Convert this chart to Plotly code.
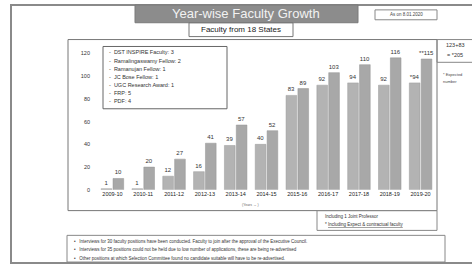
import plotly.graph_objects as go

years = ["2009-10", "2010-11", "2011-12", "2012-13", "2013-14", "2014-15",
         "2015-16", "2016-17", "2017-18", "2018-19", "2019-20"]
start_vals = [1, 1, 12, 16, 39, 40, 83, 92, 94, 92, 94]
end_vals = [10, 20, 27, 41, 57, 52, 89, 103, 110, 116, 115]
start_labels = ["1", "1", "12", "16", "39", "40", "83", "92", "94", "92", "*94"]
end_labels = ["10", "20", "27", "41", "57", "52", "89", "103", "110", "116", "**115"]
y_ticks = [0, 20, 40, 60, 80, 100, 120]

legend_items = ["DST INSPIRE Faculty: 3", "Ramalingaswamy Fellow: 2", "Ramanujan Fellow: 1",
                "JC Bose Fellow: 1", "UGC Research Award: 1", "FRP: 5", "PDF: 4"]
notes = [
    "Interviews for 30 faculty positions have been conducted. Faculty to join after the approval of the Executive Council.",
    "Interviews for 35 positions could not be held due to low number of applications, these are being re-advertised",
    "Other positions at which Selection Committee found no candidate suitable will have to be re-advertised.",
]

W, H = 472, 269
def px(x): return x / W
def py(y): return 1 - y / H

fig = go.Figure()
fig.add_trace(go.Bar(x=years, y=start_vals, text=start_labels, textposition="outside",
                     marker=dict(color="#b3b3b3", line=dict(color="#9a9a9a", width=0.5)),
                     textfont=dict(size=6, color="#333"), cliponaxis=False, constraintext="none"))
fig.add_trace(go.Bar(x=years, y=end_vals, text=end_labels, textposition="outside",
                     marker=dict(color="#a8a8a8", line=dict(color="#949494", width=0.5)),
                     textfont=dict(size=6, color="#333"), cliponaxis=False, constraintext="none"))

shapes = [
    dict(type="rect", xref="paper", yref="paper", x0=px(11), x1=px(480), y0=py(266), y1=py(5),
         line=dict(color="#8a8a8a", width=2), layer="below"),
    dict(type="rect", xref="paper", yref="paper", x0=px(135), x1=px(358), y0=py(23), y1=py(5),
         fillcolor="#8c8c8c", line=dict(color="#7a7a7a", width=1)),
    dict(type="rect", xref="paper", yref="paper", x0=px(375), x1=px(437), y0=py(20), y1=py(10),
         line=dict(color="#888", width=1)),
    dict(type="rect", xref="paper", yref="paper", x0=px(189), x1=px(293), y0=py(37), y1=py(23),
         line=dict(color="#777", width=1)),
    dict(type="rect", xref="paper", yref="paper", x0=px(68), x1=px(437), y0=py(213), y1=py(40),
         line=dict(color="#777", width=1)),
    dict(type="rect", xref="paper", yref="paper", x0=px(103), x1=px(227), y0=py(110), y1=py(47),
         line=dict(color="#666", width=1), fillcolor="white"),
    dict(type="rect", xref="paper", yref="paper", x0=px(437), x1=px(474), y0=py(63), y1=py(40),
         line=dict(color="#888", width=1)),
    dict(type="rect", xref="paper", yref="paper", x0=px(317), x1=px(437), y0=py(233), y1=py(213),
         line=dict(color="#888", width=1)),
    dict(type="rect", xref="paper", yref="paper", x0=px(67), x1=px(445), y0=py(265), y1=py(238),
         line=dict(color="#888", width=1)),
]

ann = []
def text(x, y, s, size=6, color="#333", xanchor="left", **kw):
    ann.append(dict(xref="paper", yref="paper", x=px(x), y=py(y), text=s, showarrow=False,
                    xanchor=xanchor, yanchor="middle", font=dict(size=size, color=color), **kw))

text(246, 14, "Year-wise Faculty Growth", size=13, color="#f2f2f2", xanchor="center")
text(406, 15, "As on 8.01.2020", size=4.5, color="#444", xanchor="center")
text(241, 30, "Faculty from 18 States", size=8, color="#222", xanchor="center")
for i, item in enumerate(legend_items):
    text(107, 53 + i * 8.2, "-  " + item, size=5.5, color="#333")
text(455, 46, "123+83", size=5.5, color="#333", xanchor="center")
text(455, 56, "= *205", size=5.5, color="#333", xanchor="center")
text(441, 75, "* Expected", size=4, color="#444")
text(441, 82, "number", size=4, color="#444")
text(250, 207, "(Years \u2192 )", size=3.5, color="#666", xanchor="center")
text(323, 219, "Including 1 Joint Professor", size=4.5, color="#333")
text(323, 227, "* <u>Including Expect & contractual faculty</u>", size=4.5, color="#333")
for i, n in enumerate(notes):
    text(72, 244 + i * 8.5, "\u2022   " + n, size=4.5, color="#333")

fig.update_layout(
    width=W, height=H, margin=dict(l=0, r=0, t=0, b=0),
    paper_bgcolor="white", plot_bgcolor="white",
    showlegend=False, barmode="group", bargap=0.23, bargroupgap=0.1,
    shapes=shapes, annotations=ann,
    xaxis=dict(type="category", domain=[px(97), px(436)], showgrid=False, showline=False, ticks="",
               tickfont=dict(size=5.5, color="#222"), tickangle=0),
    yaxis=dict(domain=[py(192), py(47)], range=[0, 126], tickvals=y_ticks, showgrid=False,
               showline=False, zeroline=False, ticks="", ticklabelstandoff=6,
               tickfont=dict(size=5.5, color="#333")),
    font=dict(family="Liberation Sans, Arial, sans-serif"),
)
fig.write_html("out.html", config={"displayModeBar": False},
               post_script="document.body.style.margin='0';document.body.style.overflow='hidden';")
